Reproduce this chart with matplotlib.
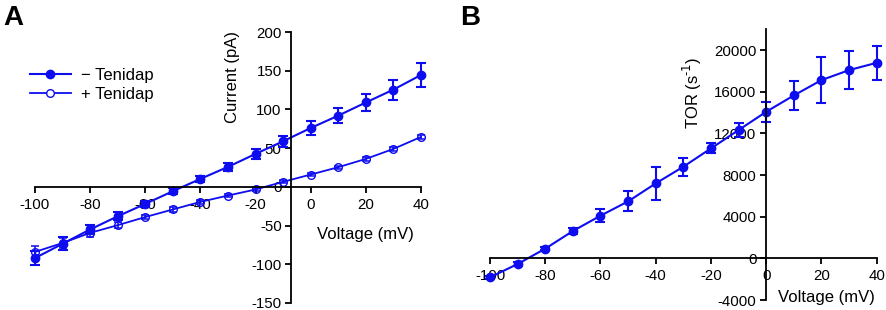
import matplotlib
matplotlib.use("Agg")
import matplotlib.pyplot as plt
from matplotlib.lines import Line2D

plt.rcParams['font.family'] = ['Liberation Sans', 'DejaVu Sans']
plt.rcParams['axes.unicode_minus'] = False

# ---- Data ----
voltage = [-100, -90, -80, -70, -60, -50, -40, -30, -20, -10, 0, 10, 20, 30, 40]

cur_minus = [-92, -73.5, -55, -38, -22, -5.6, 10.3, 25.8, 42.6, 58.9, 76, 92, 109, 125.6, 144.5]
cur_minus_err = [8.6, 8.6, 6, 5, 4, 4, 4, 5, 6, 7, 9, 10, 11.5, 13, 15]
cur_plus = [-84, -72.5, -59.4, -49.5, -39, -29.2, -19.4, -11.2, -3.4, 6.5, 15.9, 25.4, 36.1, 49, 64.5]
cur_plus_err = [8, 6, 5, 4, 3, 3, 3, 2.5, 2, 2, 2, 2, 2.5, 3, 3]

tor = [-1824, -544, 928, 2624, 4096, 5472, 7200, 8800, 10560, 12320, 14080, 15648, 17120, 18080, 18784]
tor_err = [160, 160, 160, 320, 600, 960, 1600, 850, 480, 670, 960, 1400, 2180, 1840, 1650]

xticks = [-100, -80, -60, -40, -20, 0, 20, 40]
yticks_a = [-150, -100, -50, 0, 50, 100, 150, 200]
yticks_b = [-4000, 0, 4000, 8000, 12000, 16000, 20000]

BLUE = '#0d0df0'
W, H = 886, 310
fig = plt.figure(figsize=(W/100, H/100), dpi=100)

def px_axes(l, r, t, b):
    return fig.add_axes([l/W, 1-b/H, (r-l)/W, (b-t)/H])

def style(ax, yaxis_x):
    for s in ['top', 'right']:
        ax.spines[s].set_visible(False)
    ax.spines['left'].set_position(('data', yaxis_x))
    ax.spines['bottom'].set_position(('data', 0))
    for s in ['left', 'bottom']:
        ax.spines[s].set_linewidth(1.3)
    ax.tick_params(axis='both', direction='out', length=4, width=1.3,
                   labelsize=10.8, colors='black')
    ax.tick_params(axis='x', pad=4)
    ax.tick_params(axis='y', pad=3)
    ax.patch.set_alpha(0)

# ---- Panel A ----
axA = px_axes(35, 421, 32, 303)
axA.errorbar(voltage, cur_minus, yerr=cur_minus_err, color=BLUE, marker='o',
             markersize=6, lw=1.5, capsize=3.5, elinewidth=1.5, capthick=1.5,
             clip_on=False)
axA.errorbar(voltage, cur_plus, yerr=cur_plus_err, color=BLUE, marker='o',
             markersize=5.5, markerfacecolor='none', lw=1.3, capsize=3,
             elinewidth=1.1, capthick=1.1, clip_on=False)
axA.set_xlim(-100, 40)
axA.set_ylim(-150, 200)
axA.set_xticks(xticks)
axA.set_yticks(yticks_a)
style(axA, -7)
axA.set_ylabel('Current (pA)', fontsize=12)
axA.yaxis.set_label_coords(0.531, 0.834)
axA.text(0.855, 0.251, 'Voltage (mV)', transform=axA.transAxes, fontsize=12,
         ha='center', va='center')
h1 = Line2D([], [], color=BLUE, marker='o', markersize=6, lw=1.5)
h2 = Line2D([], [], color=BLUE, marker='o', markersize=5.5, markerfacecolor='white', lw=1.3)
axA.legend([h1, h2], ['\u2212 Tenidap', '+ Tenidap'], loc='upper left',
           bbox_to_anchor=(-0.053, 0.924), frameon=False, fontsize=12,
           handlelength=2.5, handletextpad=0.6, labelspacing=0.25)
fig.text(3/W, 1-18/H, 'A', fontsize=20, fontweight='bold', va='center', ha='left')

# ---- Panel B ----
axB = px_axes(490, 876.7, 29.3, 300)
axB.errorbar(voltage, tor, yerr=tor_err, color=BLUE, marker='o', markersize=6,
             lw=1.5, capsize=3.5, elinewidth=1.5, capthick=1.5, clip_on=False)
axB.set_xlim(-100, 40)
axB.set_ylim(-4000, 22000)
axB.set_xticks(xticks)
axB.set_yticks(yticks_b)
style(axB, 0)
axB.set_ylabel(r'TOR (s$^{\text{-}1}$)', fontsize=12)
axB.yaxis.set_label_coords(0.553, 0.765)
axB.text(0.871, 0.01, 'Voltage (mV)', transform=axB.transAxes, fontsize=12,
         ha='center', va='center')
fig.text(460/W, 1-18/H, 'B', fontsize=20, fontweight='bold', va='center', ha='left')

fig.savefig('out.png', dpi=100)
